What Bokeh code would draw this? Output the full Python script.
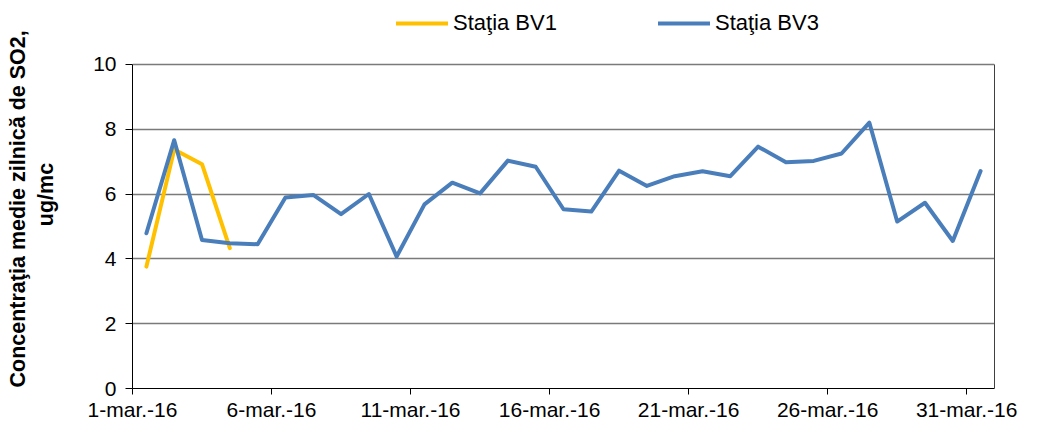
from bokeh.plotting import figure
from bokeh.models import (ColumnDataSource, Range1d, FixedTicker, Legend, LegendItem,
                          LinearAxis, Title)
from bokeh.embed import file_html
from bokeh.resources import INLINE

# ---- data (daily mean SO2, ug/mc, March 2016) ----
days_bv3 = list(range(1, 32))
bv3 = [4.79, 7.66, 4.58, 4.48, 4.45, 5.89, 5.97, 5.38, 6.00, 4.07,
       5.68, 6.35, 6.02, 7.03, 6.84, 5.53, 5.46, 6.72, 6.25, 6.55,
       6.70, 6.55, 7.46, 6.98, 7.02, 7.25, 8.20, 5.15, 5.73, 4.55, 6.71]
days_bv1 = [1, 2, 3, 4]
bv1 = [3.76, 7.37, 6.92, 4.33]

tick_days = [1, 6, 11, 16, 21, 26, 31]
tick_labels = ["1-mar.-16", "6-mar.-16", "11-mar.-16", "16-mar.-16",
               "21-mar.-16", "26-mar.-16", "31-mar.-16"]
y_ticks = [0, 2, 4, 6, 8, 10]

series_names = ["Sta\u0163ia BV1", "Sta\u0163ia BV3"]
y_title_line1 = "Concentra\u0163ia medie zilnic\u0103 de SO2,"
y_title_line2 = "ug/mc"

FONT = "Liberation Sans"

# layout (pixels)
W, H = 1040, 423
PLOT_TOP, PLOT_BOTTOM = 64, 389          # where 10 and 0 sit
Y_MAX = 10
# the frame extends up to the canvas top so that the legend lives inside it
y_top = Y_MAX * PLOT_BOTTOM / (PLOT_BOTTOM - PLOT_TOP)

# points sit in the middle of each day slot (date axis, between tick marks)
src1 = ColumnDataSource(dict(x=[d + 0.5 for d in days_bv1], y=bv1))
src3 = ColumnDataSource(dict(x=[d + 0.5 for d in days_bv3], y=bv3))

p = figure(width=W, height=H, output_backend="svg", toolbar_location=None,
           x_range=Range1d(1, 32), y_range=Range1d(0, y_top),
           min_border_left=132, min_border_right=46,
           min_border_top=0, min_border_bottom=H - PLOT_BOTTOM)

r1 = p.line("x", "y", source=src1, line_color="#FFC000", line_width=4,
            line_join="round", line_cap="round")
r3 = p.line("x", "y", source=src3, line_color="#4A7EBB", line_width=4,
            line_join="round", line_cap="round")

# axes
p.xaxis.ticker = FixedTicker(ticks=tick_days)
p.xaxis.major_label_overrides = {d: l for d, l in zip(tick_days, tick_labels)}
p.yaxis.ticker = FixedTicker(ticks=y_ticks)
p.yaxis.bounds = (0, Y_MAX)
for ax in (p.xaxis[0], p.yaxis[0]):
    ax.axis_line_color = "black"
    ax.axis_line_width = 1
    ax.major_tick_line_color = "black"
    ax.major_tick_in = 0
    ax.minor_tick_line_color = None
    ax.major_label_text_font = FONT
    ax.major_label_text_font_size = "21px"
    ax.major_label_text_color = "black"
p.xaxis.major_tick_out = 6
p.yaxis.major_tick_out = 7
p.xaxis.major_label_standoff = 3
p.yaxis.major_label_standoff = 9

# axis title: second line as the axis label, first line as an outer title
p.yaxis.axis_label = y_title_line2
p.yaxis.axis_label_text_font = FONT
p.yaxis.axis_label_text_font_style = "bold"
p.yaxis.axis_label_text_font_size = "21.5px"
p.yaxis.axis_label_text_color = "black"
p.yaxis.axis_label_standoff = 32

t1 = Title(text=y_title_line1, align="left", offset=1, standoff=4,
           text_font=FONT, text_font_size="21.5px", text_font_style="bold",
           text_color="black")
p.add_layout(t1, "left")

# right border of the plot area (from 0 to 10 only)
right = LinearAxis(ticker=FixedTicker(ticks=[]), bounds=(0, Y_MAX),
                   axis_line_color="#404040", axis_line_width=1,
                   major_tick_line_color=None, minor_tick_line_color=None,
                   major_label_standoff=0)
p.add_layout(right, "right")

# grid / outline
p.xgrid.grid_line_color = None
p.ygrid.grid_line_color = "#7a7a7a"
p.ygrid.grid_line_width = 1.5
p.outline_line_color = None
p.background_fill_color = "white"
p.border_fill_color = "white"

legend = Legend(items=[LegendItem(label=series_names[0], renderers=[r1]),
                       LegendItem(label=series_names[1], renderers=[r3])],
                orientation="horizontal", location=(264, PLOT_BOTTOM - 13 - 24),
                glyph_width=52, glyph_height=24, label_height=24,
                label_standoff=5, spacing=101, padding=0, margin=0,
                label_text_font=FONT, label_text_font_size="22px",
                label_text_color="black",
                border_line_color=None, background_fill_alpha=0)
p.add_layout(legend)

open("out.html", "w").write(file_html(p, INLINE))
